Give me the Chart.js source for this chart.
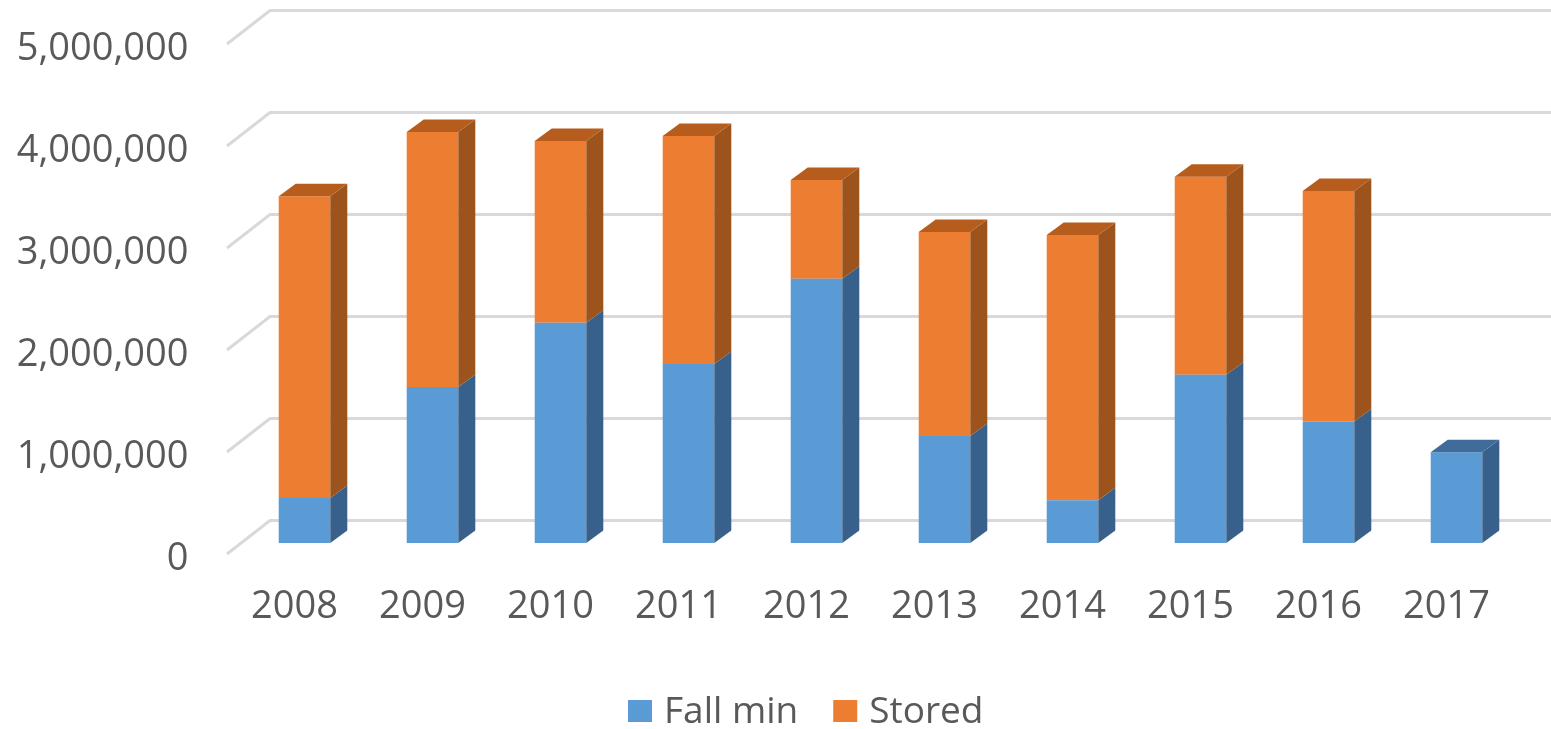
<!DOCTYPE html>
<html>
<head>
<meta charset="utf-8">
<title>Fall min and Stored</title>
<script src="https://cdn.jsdelivr.net/npm/chart.js@4"></script>
<style>
  html, body { margin: 0; padding: 0; background: #fff; }
  canvas { display: block; }
</style>
</head>
<body>
<canvas id="chart" width="1551" height="729"></canvas>
<script>
const years = ['2008', '2009', '2010', '2011', '2012', '2013', '2014', '2015', '2016', '2017'];
const fallMin = [440000, 1530000, 2160000, 1755000, 2590000, 1050000, 420000, 1650000, 1190000, 890000];
const stored = [2960000, 2500000, 1780000, 2235000, 970000, 2000000, 2600000, 1940000, 2260000, 0];

const textColor = '#595959';
const gridColor = '#d9d9d9';
const fontFamily = '"Open Sans", sans-serif';

// side and top faces for each dataset, same order as the datasets
const faceColors = [
  { side: '#37618a', top: '#3f6c9b' },
  { side: '#9d531c', top: '#b65d1e' }
];

// fake 3D: the back wall grid and the extruded bar faces
const fake3d = {
  id: 'fake3d',
  beforeDatasetsDraw(chart) {
    const ctx = chart.ctx;
    const y = chart.scales.y;
    ctx.save();
    ctx.strokeStyle = gridColor;
    ctx.lineWidth = 3;
    y.ticks.forEach(t => {
      const py = y.getPixelForValue(t.value);
      ctx.beginPath();
      ctx.moveTo(227, py + 11);
      ctx.lineTo(270, py - 22.5);
      ctx.lineTo(chart.width, py - 22.5);
      ctx.stroke();
    });
    ctx.restore();
  },
  afterDatasetsDraw(chart) {
    const ctx = chart.ctx;
    const dx = 17, dy = -12.5;
    ctx.save();
    chart.data.datasets.forEach((ds, d) => {
      chart.getDatasetMeta(d).data.forEach((bar, i) => {
        if (!ds.data[i]) return;
        const right = bar.x + bar.width / 2;
        const left = bar.x - bar.width / 2;
        const top = bar.y, bottom = bar.base;
        ctx.fillStyle = faceColors[d].side;
        ctx.beginPath();
        ctx.moveTo(right, bottom);
        ctx.lineTo(right + dx, bottom + dy);
        ctx.lineTo(right + dx, top + dy);
        ctx.lineTo(right, top);
        ctx.closePath();
        ctx.fill();
        // only the highest segment of a stack shows its top
        const above = chart.data.datasets.slice(d + 1).some(o => o.data[i] > 0);
        if (!above) {
          ctx.fillStyle = faceColors[d].top;
          ctx.beginPath();
          ctx.moveTo(left, top);
          ctx.lineTo(left + dx, top + dy);
          ctx.lineTo(right + dx, top + dy);
          ctx.lineTo(right, top);
          ctx.closePath();
          ctx.fill();
        }
      });
    });
    ctx.restore();
  }
};

// built-in legend ties its item gap to its height, so this one is drawn here
const bottomLegend = {
  id: 'bottomLegend',
  afterDraw(chart) {
    const ctx = chart.ctx;
    let x = 628;
    ctx.save();
    ctx.font = '37px ' + fontFamily;
    ctx.textBaseline = 'middle';
    chart.data.datasets.forEach(ds => {
      ctx.fillStyle = ds.backgroundColor;
      ctx.fillRect(x, 700, 24, 22);
      ctx.fillStyle = textColor;
      ctx.fillText(ds.label, x + 36, 712);
      x += 36 + ctx.measureText(ds.label).width + 35;
    });
    ctx.restore();
  }
};

new Chart(document.getElementById('chart'), {
  type: 'bar',
  data: {
    labels: years,
    datasets: [
      { label: 'Fall min', data: fallMin, backgroundColor: '#5b9bd5' },
      { label: 'Stored', data: stored, backgroundColor: '#ed7d31' }
    ]
  },
  options: {
    responsive: false,
    animation: false,
    maintainAspectRatio: false,
    categoryPercentage: 1,
    barPercentage: 0.403,
    layout: { autoPadding: false, padding: { top: 33, right: 30.5, left: 0, bottom: 0 } },
    scales: {
      x: {
        stacked: true,
        grid: { display: false, drawTicks: false },
        border: { display: false },
        ticks: {
          color: textColor,
          font: { family: fontFamily, size: 38 },
          padding: 41,
          labelOffset: -10,
          maxRotation: 0,
          autoSkip: false
        },
        afterFit(scale) { scale.height = 186; }
      },
      y: {
        stacked: true,
        min: 0,
        max: 5000000,
        grid: { display: false, drawTicks: false },
        border: { display: false },
        ticks: {
          stepSize: 1000000,
          color: textColor,
          font: { family: fontFamily, size: 38 },
          padding: 52,
          labelOffset: 16,
          callback: v => v.toLocaleString('en-US')
        },
        afterFit(scale) {
          scale.width = 240.5;
          // no inset for the tick labels, the value axis fills the whole height
          scale.paddingTop = 0;
          scale.paddingBottom = 0;
        }
      }
    },
    plugins: {
      tooltip: { enabled: false },
      legend: { display: false }
    }
  },
  plugins: [fake3d, bottomLegend]
});
</script>
</body>
</html>
